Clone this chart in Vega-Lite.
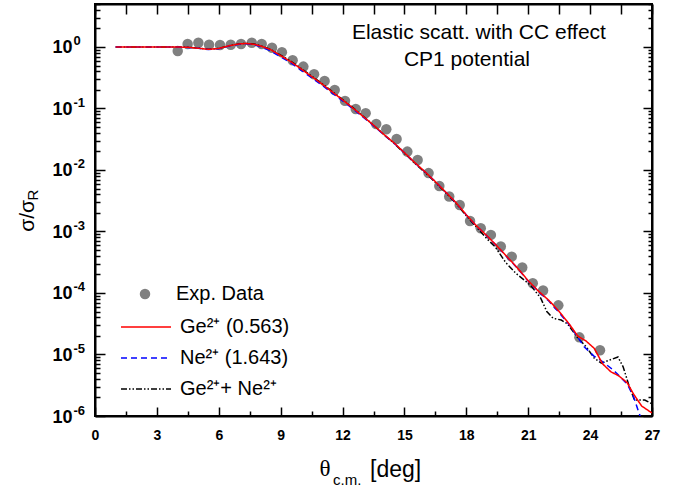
{
  "$schema": "https://vega.github.io/schema/vega-lite/v6.json",
  "width": 557,
  "height": 412,
  "autosize": {"type": "none"},
  "padding": {"left": 95, "top": 4, "right": 32, "bottom": 74},
  "background": "white",
  "config": {"view": {"stroke": "black", "strokeWidth": 2}, "font": "Liberation Sans"},
  "datasets": {
    "exp": [
      {"theta": 4.01, "ratio": 0.86}, {"theta": 4.49, "ratio": 1.12}, {"theta": 5.01, "ratio": 1.17},
      {"theta": 5.53, "ratio": 1.09}, {"theta": 6.06, "ratio": 1.08}, {"theta": 6.58, "ratio": 1.09},
      {"theta": 7.08, "ratio": 1.12}, {"theta": 7.6, "ratio": 1.17}, {"theta": 8.08, "ratio": 1.12},
      {"theta": 8.58, "ratio": 0.97}, {"theta": 9.06, "ratio": 0.82}, {"theta": 9.58, "ratio": 0.61},
      {"theta": 10.1, "ratio": 0.48}, {"theta": 10.62, "ratio": 0.36}, {"theta": 11.13, "ratio": 0.28},
      {"theta": 11.62, "ratio": 0.2}, {"theta": 12.12, "ratio": 0.133}, {"theta": 12.64, "ratio": 0.098},
      {"theta": 13.12, "ratio": 0.084}, {"theta": 13.63, "ratio": 0.056}, {"theta": 14.12, "ratio": 0.046},
      {"theta": 14.62, "ratio": 0.032}, {"theta": 15.14, "ratio": 0.0199}, {"theta": 15.64, "ratio": 0.0145},
      {"theta": 16.17, "ratio": 0.0089}, {"theta": 16.69, "ratio": 0.0055}, {"theta": 17.17, "ratio": 0.0037},
      {"theta": 17.68, "ratio": 0.0027}, {"theta": 18.18, "ratio": 0.00148}, {"theta": 18.7, "ratio": 0.00113},
      {"theta": 19.19, "ratio": 0.00088}, {"theta": 19.67, "ratio": 0.00057}, {"theta": 20.2, "ratio": 0.00039},
      {"theta": 20.71, "ratio": 0.00026}, {"theta": 21.22, "ratio": 0.000144}, {"theta": 21.72, "ratio": 0.00011},
      {"theta": 22.46, "ratio": 0.000063}, {"theta": 23.48, "ratio": 0.000019}, {"theta": 24.48, "ratio": 0.0000117}
    ],
    "theory": [
      {"model": "GeNe", "theta": 1.0, "ratio": 1}, {"model": "GeNe", "theta": 2.0, "ratio": 1}, {"model": "GeNe", "theta": 3.0, "ratio": 1}, {"model": "GeNe", "theta": 4.0, "ratio": 1},
      {"model": "GeNe", "theta": 4.5, "ratio": 0.99}, {"model": "GeNe", "theta": 5.0, "ratio": 0.957}, {"model": "GeNe", "theta": 5.5, "ratio": 0.92},
      {"model": "GeNe", "theta": 6.0, "ratio": 0.948}, {"model": "GeNe", "theta": 6.5, "ratio": 1.05}, {"model": "GeNe", "theta": 7.0, "ratio": 1.125},
      {"model": "GeNe", "theta": 7.3, "ratio": 1.148}, {"model": "GeNe", "theta": 7.7, "ratio": 1.115}, {"model": "GeNe", "theta": 8.0, "ratio": 1.055},
      {"model": "GeNe", "theta": 8.5, "ratio": 0.92}, {"model": "GeNe", "theta": 9.0, "ratio": 0.735}, {"model": "GeNe", "theta": 9.5, "ratio": 0.585},
      {"model": "GeNe", "theta": 10.0, "ratio": 0.445}, {"model": "GeNe", "theta": 10.5, "ratio": 0.336}, {"model": "GeNe", "theta": 11.0, "ratio": 0.255},
      {"model": "GeNe", "theta": 11.5, "ratio": 0.189}, {"model": "GeNe", "theta": 12.0, "ratio": 0.14}, {"model": "GeNe", "theta": 12.5, "ratio": 0.103},
      {"model": "GeNe", "theta": 13.0, "ratio": 0.0745}, {"model": "GeNe", "theta": 13.5, "ratio": 0.0535}, {"model": "GeNe", "theta": 14.0, "ratio": 0.0376},
      {"model": "GeNe", "theta": 14.5, "ratio": 0.027}, {"model": "GeNe", "theta": 15.0, "ratio": 0.0187}, {"model": "GeNe", "theta": 15.5, "ratio": 0.0129},
      {"model": "GeNe", "theta": 16.0, "ratio": 0.0091}, {"model": "GeNe", "theta": 16.5, "ratio": 0.0063}, {"model": "GeNe", "theta": 17.0, "ratio": 0.00425},
      {"model": "GeNe", "theta": 17.5, "ratio": 0.00285}, {"model": "GeNe", "theta": 18.0, "ratio": 0.0018}, {"model": "GeNe", "theta": 18.5, "ratio": 0.00117},
      {"model": "GeNe", "theta": 19.0, "ratio": 0.000759}, {"model": "GeNe", "theta": 19.4, "ratio": 0.000562}, {"model": "GeNe", "theta": 19.9, "ratio": 0.000316},
      {"model": "GeNe", "theta": 20.4, "ratio": 0.000209}, {"model": "GeNe", "theta": 21.1, "ratio": 0.000135}, {"model": "GeNe", "theta": 21.6, "ratio": 0.0000832},
      {"model": "GeNe", "theta": 21.9, "ratio": 0.0000501}, {"model": "GeNe", "theta": 22.2, "ratio": 0.0000389}, {"model": "GeNe", "theta": 22.6, "ratio": 0.0000363},
      {"model": "GeNe", "theta": 22.9, "ratio": 0.0000316}, {"model": "GeNe", "theta": 23.4, "ratio": 0.0000186}, {"model": "GeNe", "theta": 23.8, "ratio": 0.0000135},
      {"model": "GeNe", "theta": 24.2, "ratio": 0.00000871}, {"model": "GeNe", "theta": 24.55, "ratio": 0.00000724}, {"model": "GeNe", "theta": 24.95, "ratio": 0.00000813},
      {"model": "GeNe", "theta": 25.35, "ratio": 0.00000912}, {"model": "GeNe", "theta": 25.6, "ratio": 0.00000631}, {"model": "GeNe", "theta": 25.9, "ratio": 0.00000302},
      {"model": "GeNe", "theta": 26.15, "ratio": 0.00000182}, {"model": "GeNe", "theta": 26.65, "ratio": 0.00000182}, {"model": "GeNe", "theta": 27.0, "ratio": 0.00000158},

      {"model": "Ne", "theta": 1.0, "ratio": 1}, {"model": "Ne", "theta": 2.0, "ratio": 1}, {"model": "Ne", "theta": 3.0, "ratio": 1}, {"model": "Ne", "theta": 4.0, "ratio": 1},
      {"model": "Ne", "theta": 4.5, "ratio": 0.985}, {"model": "Ne", "theta": 5.0, "ratio": 0.95}, {"model": "Ne", "theta": 5.5, "ratio": 0.91},
      {"model": "Ne", "theta": 6.0, "ratio": 0.94}, {"model": "Ne", "theta": 6.5, "ratio": 1.04}, {"model": "Ne", "theta": 7.0, "ratio": 1.11},
      {"model": "Ne", "theta": 7.3, "ratio": 1.13}, {"model": "Ne", "theta": 7.7, "ratio": 1.09}, {"model": "Ne", "theta": 8.0, "ratio": 1.02},
      {"model": "Ne", "theta": 8.5, "ratio": 0.87}, {"model": "Ne", "theta": 9.0, "ratio": 0.69}, {"model": "Ne", "theta": 9.5, "ratio": 0.55},
      {"model": "Ne", "theta": 10.0, "ratio": 0.417}, {"model": "Ne", "theta": 10.5, "ratio": 0.316}, {"model": "Ne", "theta": 11.0, "ratio": 0.24},
      {"model": "Ne", "theta": 11.5, "ratio": 0.178}, {"model": "Ne", "theta": 12.0, "ratio": 0.133}, {"model": "Ne", "theta": 12.5, "ratio": 0.099},
      {"model": "Ne", "theta": 13.0, "ratio": 0.0724}, {"model": "Ne", "theta": 13.5, "ratio": 0.0525}, {"model": "Ne", "theta": 14.0, "ratio": 0.0375},
      {"model": "Ne", "theta": 14.5, "ratio": 0.0272}, {"model": "Ne", "theta": 15.0, "ratio": 0.019}, {"model": "Ne", "theta": 15.5, "ratio": 0.0131},
      {"model": "Ne", "theta": 16.0, "ratio": 0.0093}, {"model": "Ne", "theta": 16.5, "ratio": 0.00643}, {"model": "Ne", "theta": 17.0, "ratio": 0.00435},
      {"model": "Ne", "theta": 17.5, "ratio": 0.00293}, {"model": "Ne", "theta": 18.0, "ratio": 0.00185}, {"model": "Ne", "theta": 18.5, "ratio": 0.00122},
      {"model": "Ne", "theta": 19.0, "ratio": 0.000845}, {"model": "Ne", "theta": 19.5, "ratio": 0.00057}, {"model": "Ne", "theta": 20.0, "ratio": 0.000375},
      {"model": "Ne", "theta": 20.5, "ratio": 0.000248}, {"model": "Ne", "theta": 21.0, "ratio": 0.000156}, {"model": "Ne", "theta": 21.5, "ratio": 0.000105},
      {"model": "Ne", "theta": 22.0, "ratio": 0.0000741}, {"model": "Ne", "theta": 22.5, "ratio": 0.0000479}, {"model": "Ne", "theta": 23.0, "ratio": 0.0000302},
      {"model": "Ne", "theta": 23.4, "ratio": 0.0000191}, {"model": "Ne", "theta": 23.7, "ratio": 0.0000135}, {"model": "Ne", "theta": 24.2, "ratio": 0.00000933},
      {"model": "Ne", "theta": 24.5, "ratio": 0.00000813}, {"model": "Ne", "theta": 25.0, "ratio": 0.00000603}, {"model": "Ne", "theta": 25.3, "ratio": 0.0000049},
      {"model": "Ne", "theta": 25.8, "ratio": 0.00000331}, {"model": "Ne", "theta": 26.1, "ratio": 0.00000209}, {"model": "Ne", "theta": 26.35, "ratio": 0.00000117},
      {"model": "Ne", "theta": 26.45, "ratio": 0.00000095},

      {"model": "Ge", "theta": 1.0, "ratio": 1}, {"model": "Ge", "theta": 2.0, "ratio": 1}, {"model": "Ge", "theta": 3.0, "ratio": 1}, {"model": "Ge", "theta": 4.0, "ratio": 1},
      {"model": "Ge", "theta": 4.5, "ratio": 0.989}, {"model": "Ge", "theta": 5.0, "ratio": 0.955}, {"model": "Ge", "theta": 5.5, "ratio": 0.916},
      {"model": "Ge", "theta": 6.0, "ratio": 0.944}, {"model": "Ge", "theta": 6.5, "ratio": 1.047}, {"model": "Ge", "theta": 7.0, "ratio": 1.122},
      {"model": "Ge", "theta": 7.3, "ratio": 1.143}, {"model": "Ge", "theta": 7.7, "ratio": 1.109}, {"model": "Ge", "theta": 8.0, "ratio": 1.047},
      {"model": "Ge", "theta": 8.5, "ratio": 0.912}, {"model": "Ge", "theta": 9.0, "ratio": 0.724}, {"model": "Ge", "theta": 9.5, "ratio": 0.575},
      {"model": "Ge", "theta": 10.0, "ratio": 0.437}, {"model": "Ge", "theta": 10.5, "ratio": 0.331}, {"model": "Ge", "theta": 11.0, "ratio": 0.251},
      {"model": "Ge", "theta": 11.5, "ratio": 0.186}, {"model": "Ge", "theta": 12.0, "ratio": 0.138}, {"model": "Ge", "theta": 12.5, "ratio": 0.102},
      {"model": "Ge", "theta": 13.0, "ratio": 0.0741}, {"model": "Ge", "theta": 13.5, "ratio": 0.0537}, {"model": "Ge", "theta": 14.0, "ratio": 0.038},
      {"model": "Ge", "theta": 14.5, "ratio": 0.0275}, {"model": "Ge", "theta": 15.0, "ratio": 0.0191}, {"model": "Ge", "theta": 15.5, "ratio": 0.0132},
      {"model": "Ge", "theta": 16.0, "ratio": 0.00933}, {"model": "Ge", "theta": 16.5, "ratio": 0.00646}, {"model": "Ge", "theta": 17.0, "ratio": 0.00437},
      {"model": "Ge", "theta": 17.5, "ratio": 0.00295}, {"model": "Ge", "theta": 18.0, "ratio": 0.00186}, {"model": "Ge", "theta": 18.5, "ratio": 0.00123},
      {"model": "Ge", "theta": 19.0, "ratio": 0.000851}, {"model": "Ge", "theta": 19.5, "ratio": 0.000575}, {"model": "Ge", "theta": 20.0, "ratio": 0.00038},
      {"model": "Ge", "theta": 20.5, "ratio": 0.000251}, {"model": "Ge", "theta": 21.0, "ratio": 0.000158}, {"model": "Ge", "theta": 21.5, "ratio": 0.000107},
      {"model": "Ge", "theta": 22.0, "ratio": 0.0000759}, {"model": "Ge", "theta": 22.5, "ratio": 0.0000501}, {"model": "Ge", "theta": 23.0, "ratio": 0.0000309},
      {"model": "Ge", "theta": 23.4, "ratio": 0.00002}, {"model": "Ge", "theta": 23.8, "ratio": 0.0000166}, {"model": "Ge", "theta": 24.2, "ratio": 0.0000126},
      {"model": "Ge", "theta": 24.6, "ratio": 0.00000708}, {"model": "Ge", "theta": 25.0, "ratio": 0.00000525}, {"model": "Ge", "theta": 25.4, "ratio": 0.00000447},
      {"model": "Ge", "theta": 25.8, "ratio": 0.00000347}, {"model": "Ge", "theta": 26.1, "ratio": 0.00000229}, {"model": "Ge", "theta": 26.5, "ratio": 0.00000145},
      {"model": "Ge", "theta": 27.0, "ratio": 0.00000112}
    ]
  },
  "resolve": {"axis": {"x": "independent", "y": "independent"}},
  "layer": [
    {
      "data": {"name": "exp"},
      "mark": {"type": "point", "filled": true, "size": 110, "opacity": 1, "color": "#808080"},
      "encoding": {
        "x": {
          "field": "theta", "type": "quantitative",
          "scale": {"domain": [0, 27], "nice": false, "zero": false},
          "axis": {
            "orient": "bottom", "title": null,
            "values": [0, 1.5, 3, 4.5, 6, 7.5, 9, 10.5, 12, 13.5, 15, 16.5, 18, 19.5, 21, 22.5, 24, 25.5, 27],
            "labelExpr": "datum.value % 3 == 0 ? datum.label : ''",
            "labelFont": "Liberation Sans", "labelFontWeight": "bold", "labelFontSize": 14, "labelColor": "black",
            "labelPadding": 21, "labelOverlap": false, "labelFlush": false, "labelBound": false,
            "tickSize": {"condition": {"test": "datum.value % 3 == 0", "value": -9}, "value": -5},
            "tickColor": "black", "tickWidth": 1.5, "domainColor": "black", "domainWidth": 2, "grid": false
          }
        },
        "y": {
          "field": "ratio", "type": "quantitative",
          "scale": {"type": "log", "domain": [0.000001, 5], "nice": false},
          "axis": {
            "orient": "left", "title": null,
            "values": [1e-6, 2e-6, 3e-6, 4e-6, 5e-6, 6e-6, 7e-6, 8e-6, 9e-6,
                       1e-5, 2e-5, 3e-5, 4e-5, 5e-5, 6e-5, 7e-5, 8e-5, 9e-5,
                       1e-4, 2e-4, 3e-4, 4e-4, 5e-4, 6e-4, 7e-4, 8e-4, 9e-4,
                       0.001, 0.002, 0.003, 0.004, 0.005, 0.006, 0.007, 0.008, 0.009,
                       0.01, 0.02, 0.03, 0.04, 0.05, 0.06, 0.07, 0.08, 0.09,
                       0.1, 0.2, 0.3, 0.4, 0.5, 0.6, 0.7, 0.8, 0.9,
                       1, 2, 3, 4, 5],
            "labelExpr": "abs(log(datum.value)/LN10 - round(log(datum.value)/LN10)) > 0.001 ? '' : '10'",
            "labelFont": "Liberation Sans", "labelFontWeight": "bold", "labelFontSize": 18, "labelColor": "black",
            "labelPadding": 33, "labelOverlap": false, "labelFlush": false, "labelBound": false, "labelOffset": 1,
            "tickSize": {"condition": {"test": "abs(log(datum.value)/LN10 - round(log(datum.value)/LN10)) < 0.001", "value": -10}, "value": -5},
            "tickColor": "black", "tickWidth": 1.5, "domainColor": "black", "domainWidth": 2, "grid": false
          }
        },
        "shape": {
          "datum": "Exp. Data", "type": "nominal",
          "scale": {"domain": ["Exp. Data"], "range": ["circle"]},
          "legend": {
            "orient": "none", "legendX": 40, "legendY": 280, "title": null,
            "labelFont": "Liberation Sans", "labelFontSize": 20, "labelColor": "black",
            "symbolSize": 110, "symbolFillColor": "#808080", "symbolStrokeWidth": 0, "symbolOpacity": 1,
            "labelOffset": 21, "padding": 0
          }
        }
      }
    },
    {
      "data": {"name": "theory"},
      "mark": {"type": "line", "strokeWidth": 1.5, "clip": true},
      "encoding": {
        "x": {
          "field": "theta", "type": "quantitative",
          "axis": {
            "orient": "top", "title": null, "labels": false,
            "values": [0, 1.5, 3, 4.5, 6, 7.5, 9, 10.5, 12, 13.5, 15, 16.5, 18, 19.5, 21, 22.5, 24, 25.5, 27],
            "tickSize": -10, "tickColor": "black", "tickWidth": 1.5, "domainColor": "black", "domainWidth": 2, "grid": false
          }
        },
        "y": {
          "field": "ratio", "type": "quantitative",
          "axis": {
            "orient": "right", "title": null, "labels": false,
            "values": [1e-6, 2e-6, 3e-6, 4e-6, 5e-6, 6e-6, 7e-6, 8e-6, 9e-6,
                       1e-5, 2e-5, 3e-5, 4e-5, 5e-5, 6e-5, 7e-5, 8e-5, 9e-5,
                       1e-4, 2e-4, 3e-4, 4e-4, 5e-4, 6e-4, 7e-4, 8e-4, 9e-4,
                       0.001, 0.002, 0.003, 0.004, 0.005, 0.006, 0.007, 0.008, 0.009,
                       0.01, 0.02, 0.03, 0.04, 0.05, 0.06, 0.07, 0.08, 0.09,
                       0.1, 0.2, 0.3, 0.4, 0.5, 0.6, 0.7, 0.8, 0.9,
                       1, 2, 3, 4, 5],
            "tickSize": {"condition": {"test": "abs(log(datum.value)/LN10 - round(log(datum.value)/LN10)) < 0.001", "value": -9}, "value": -4},
            "tickColor": "black", "tickWidth": 1.5, "domainColor": "black", "domainWidth": 2, "grid": false
          }
        },
        "color": {
          "field": "model", "type": "nominal",
          "scale": {"domain": ["Ge", "Ne", "GeNe"], "range": ["#ff0000", "#0000ff", "#000000"]},
          "legend": {
            "orient": "none", "legendX": 30, "legendY": 302, "title": null,
            "labelExpr": "datum.value == 'Ge' ? 'Ge²⁺ (0.563)' : datum.value == 'Ne' ? 'Ne²⁺ (1.643)' : 'Ge²⁺+ Ne²⁺'",
            "labelFont": "Liberation Sans", "labelFontSize": 20, "labelColor": "black",
            "symbolType": "M-1.25,0H1.25", "symbolSize": 1600, "symbolStrokeWidth": 1.5,
            "labelOffset": 13, "rowPadding": 0, "padding": 0
          }
        },
        "strokeDash": {
          "field": "model", "type": "nominal",
          "scale": {"domain": ["Ge", "Ne", "GeNe"], "range": [[1, 0], [6, 4], [6, 2, 1.5, 2, 1.5, 2]]},
          "legend": {
            "orient": "none", "legendX": 30, "legendY": 302, "title": null,
            "labelExpr": "datum.value == 'Ge' ? 'Ge²⁺ (0.563)' : datum.value == 'Ne' ? 'Ne²⁺ (1.643)' : 'Ge²⁺+ Ne²⁺'",
            "labelFont": "Liberation Sans", "labelFontSize": 20, "labelColor": "black",
            "symbolType": "M-1.25,0H1.25", "symbolSize": 1600, "symbolStrokeWidth": 1.5,
            "labelOffset": 13, "rowPadding": 0, "padding": 0
          }
        }
      }
    },
    {
      "data": {"values": [{}]},
      "mark": {"type": "text", "font": "Liberation Sans", "fontSize": 21, "align": "center", "baseline": "middle", "color": "black"},
      "encoding": {
        "x": {"datum": 18.61, "type": "quantitative", "axis": null},
        "y": {
          "datum": 1.69, "type": "quantitative",
          "axis": {
            "orient": "left", "title": null,
            "values": [1e-6, 1e-5, 1e-4, 0.001, 0.01, 0.1, 1],
            "labelExpr": "['-6','-5','-4','-3','-2','-1','0'][round(log(datum.value)/LN10) + 6]",
            "labelFont": "Liberation Sans", "labelFontWeight": "bold", "labelFontSize": 13, "labelColor": "black",
            "labelAlign": "left", "labelPadding": 22, "labelOffset": -6,
            "labelOverlap": false, "labelFlush": false, "labelBound": false,
            "ticks": false, "tickSize": 0, "domain": false, "grid": false
          }
        },
        "text": {"value": "Elastic scatt. with CC effect"}
      }
    },
    {
      "data": {"values": [{}]},
      "mark": {"type": "text", "font": "Liberation Sans", "fontSize": 21, "align": "center", "baseline": "middle", "color": "black"},
      "encoding": {
        "x": {"datum": 18.03, "type": "quantitative", "axis": null},
        "y": {"datum": 0.615, "type": "quantitative", "axis": null},
        "text": {"value": "CP1 potential"}
      }
    },
    {
      "data": {"values": [{}]},
      "mark": {"type": "text", "font": "Liberation Sans", "fontSize": 21, "align": "center", "baseline": "middle", "angle": 270, "color": "black"},
      "encoding": {
        "x": {"datum": -3.25, "type": "quantitative", "axis": null},
        "y": {"datum": 0.00179, "type": "quantitative", "axis": null},
        "text": {"value": "σ/σ"}
      }
    },
    {
      "data": {"values": [{}]},
      "mark": {"type": "text", "font": "Liberation Sans", "fontSize": 15, "align": "center", "baseline": "middle", "angle": 270, "color": "black"},
      "encoding": {
        "x": {"datum": -3.0, "type": "quantitative", "axis": null},
        "y": {"datum": 0.00392, "type": "quantitative", "axis": null},
        "text": {"value": "R"}
      }
    },
    {
      "data": {"values": [{}]},
      "mark": {"type": "text", "font": "Liberation Serif", "fontSize": 23, "align": "center", "baseline": "middle", "color": "black"},
      "encoding": {
        "x": {"datum": 11.15, "type": "quantitative", "axis": null},
        "y": {"datum": 1.374e-7, "type": "quantitative", "axis": null},
        "text": {"value": "θ"}
      }
    },
    {
      "data": {"values": [{}]},
      "mark": {"type": "text", "font": "Liberation Sans", "fontSize": 15, "align": "left", "baseline": "middle", "color": "black"},
      "encoding": {
        "x": {"datum": 11.54, "type": "quantitative", "axis": null},
        "y": {"datum": 9.1e-8, "type": "quantitative", "axis": null},
        "text": {"value": "c.m."}
      }
    },
    {
      "data": {"values": [{}]},
      "mark": {"type": "text", "font": "Liberation Sans", "fontSize": 23, "align": "left", "baseline": "middle", "color": "black"},
      "encoding": {
        "x": {"datum": 13.33, "type": "quantitative", "axis": null},
        "y": {"datum": 1.32e-7, "type": "quantitative", "axis": null},
        "text": {"value": "[deg]"}
      }
    }
  ]
}
